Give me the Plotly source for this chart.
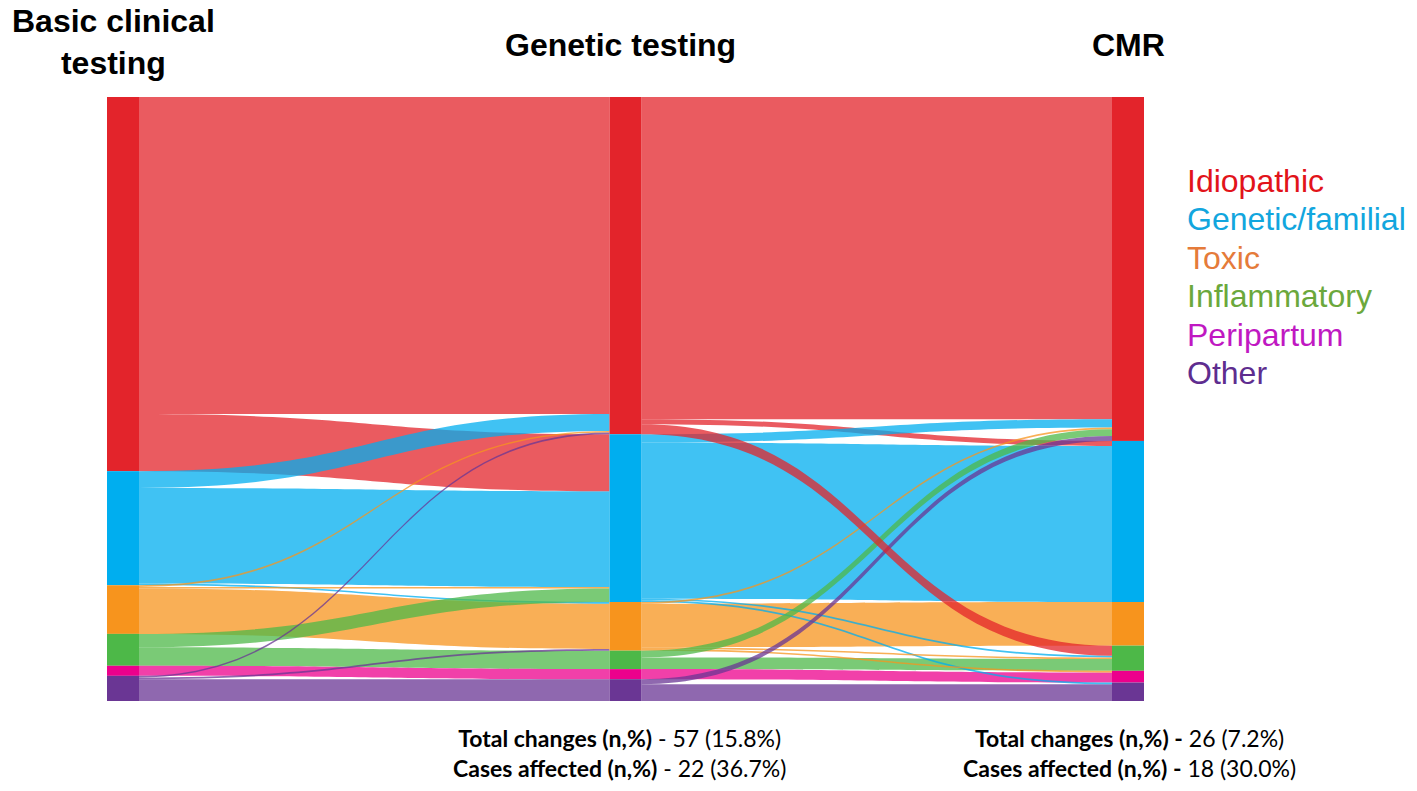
import plotly.graph_objects as go

# ---------------- data ----------------
categories = ["Idiopathic", "Genetic/familial", "Toxic", "Inflammatory", "Peripartum", "Other"]
stages = ["Basic clinical testing", "Genetic testing", "CMR"]

# Basic clinical testing -> Genetic testing (unchanged diagnoses first, changes after)
s1_from = ["Idiopathic", "Genetic/familial", "Toxic", "Inflammatory", "Peripartum", "Other",
           "Idiopathic", "Genetic/familial", "Genetic/familial",
           "Toxic", "Toxic", "Inflammatory", "Other", "Other"]
s1_to = ["Idiopathic", "Genetic/familial", "Toxic", "Inflammatory", "Peripartum", "Other",
         "Genetic/familial", "Idiopathic", "Toxic",
         "Idiopathic", "Genetic/familial", "Genetic/familial", "Idiopathic", "Toxic"]
s1_value = [189, 57, 27, 11, 6, 13,
            34, 10, 1,
            1, 1, 8, 1, 1]

# Genetic testing -> CMR (unchanged diagnoses first, changes after)
s2_from = ["Idiopathic", "Genetic/familial", "Toxic", "Inflammatory", "Peripartum", "Other",
           "Genetic/familial", "Genetic/familial", "Toxic", "Toxic",
           "Idiopathic", "Genetic/familial", "Toxic", "Inflammatory", "Other", "Idiopathic"]
s2_to = ["Idiopathic", "Genetic/familial", "Toxic", "Inflammatory", "Peripartum", "Other",
         "Inflammatory", "Other", "Inflammatory", "Peripartum",
         "Genetic/familial", "Idiopathic", "Idiopathic", "Idiopathic", "Idiopathic", "Inflammatory"]
s2_value = [192, 93, 26, 7, 6, 10,
            1, 1, 1, 1,
            3, 5, 1, 4, 3, 6]

summary_1 = ["Total changes (n,%)", " - 57 (15.8%)", "Cases affected (n,%)", " - 22 (36.7%)"]
summary_2 = ["Total changes (n,%) -", " 26 (7.2%)", "Cases affected (n,%) -", " 18 (30.0%)"]

# ---------------- styles ----------------
node_colors = ["#E3242B", "#00AEEF", "#F7941D", "#4DB848", "#EC008C", "#6A3694"]
link_rgb = [(227, 36, 43), (0, 174, 239), (247, 148, 29), (77, 184, 72), (236, 0, 140), (106, 54, 148)]
legend_colors = ["#E2131A", "#12A6DE", "#E57B3A", "#6BA83C", "#C018C2", "#5E2D8F"]

W, H = 1417, 791
top_px, bot_px = 97, 701
left_c, right_c = 122, 1129
col_x = [0.001, 0.5, 0.999]

ncat = len(categories)
idx = {c: i for i, c in enumerate(categories)}

sources, targets, values, lcolors = [], [], [], []
for st, (fr, to, va) in enumerate([(s1_from, s1_to, s1_value), (s2_from, s2_to, s2_value)]):
    for a, b, v in zip(fr, to, va):
        sources.append(st * ncat + idx[a])
        targets.append((st + 1) * ncat + idx[b])
        values.append(v)
        r, g, bb = link_rgb[idx[a]]
        lcolors.append(f"rgba({r},{g},{bb},0.75)")

# node values (max of in/out) -> stacked positions without padding
inn = [0] * (3 * ncat)
out = [0] * (3 * ncat)
for s, t, v in zip(sources, targets, values):
    out[s] += v
    inn[t] += v
nv = [max(a, b) for a, b in zip(inn, out)]

node_x, node_y, ncol, custom = [], [], [], []
for st in range(3):
    total = sum(nv[st * ncat:(st + 1) * ncat])
    cum = 0
    for c in range(ncat):
        v = nv[st * ncat + c]
        node_x.append(col_x[st])
        node_y.append((cum + v / 2) / total)
        cum += v
        ncol.append(node_colors[c])
        custom.append(f"{stages[st]}: {categories[c]}")

fig = go.Figure(go.Sankey(
    arrangement="fixed",
    domain=dict(x=[left_c / W, right_c / W], y=[1 - bot_px / H, 1 - top_px / H]),
    node=dict(
        pad=0,
        thickness=32,
        line=dict(width=0),
        color=ncol,
        x=node_x,
        y=node_y,
        label=[""] * len(ncol),
        customdata=custom,
        hovertemplate="%{customdata}<br>n = %{value}<extra></extra>",
    ),
    link=dict(
        source=sources,
        target=targets,
        value=values,
        color=lcolors,
        line=dict(width=0),
    ),
))

ann = []
title_font = dict(family="Liberation Sans Narrow, Arial Narrow, Liberation Sans, Arial", size=32, color="#000000")
ann.append(dict(text="<b>Basic clinical<br>testing</b>", x=113 / W, y=1 - 42 / H, xref="paper", yref="paper",
                xanchor="center", yanchor="middle", showarrow=False, font=title_font, align="center"))
ann.append(dict(text="<b>Genetic testing</b>", x=620 / W, y=1 - 45 / H, xref="paper", yref="paper",
                xanchor="center", yanchor="middle", showarrow=False, font=title_font))
ann.append(dict(text="<b>CMR</b>", x=1128 / W, y=1 - 45 / H, xref="paper", yref="paper",
                xanchor="center", yanchor="middle", showarrow=False, font=title_font))

leg_y = [181, 219, 258, 296, 335, 373]
for c, yy, col in zip(categories, leg_y, legend_colors):
    ann.append(dict(text=c, x=1185 / W, y=1 - yy / H, xref="paper", yref="paper",
                    xanchor="left", yanchor="middle", showarrow=False,
                    font=dict(family="Liberation Sans, Arial", size=32, color=col)))

sum_font = dict(family="Lato, Carlito, Calibri, sans-serif", size=23, color="#000000")
for txt, cx in [(summary_1, 619), (summary_2, 1129)]:
    t = f"<b>{txt[0]}</b>{txt[1]}<br><b>{txt[2]}</b>{txt[3]}"
    ann.append(dict(text=t, x=cx / W, y=1 - 753 / H, xref="paper", yref="paper",
                    xanchor="center", yanchor="middle", showarrow=False, font=sum_font, align="center"))

fig.update_layout(
    width=W, height=H,
    margin=dict(l=0, r=0, t=0, b=0),
    paper_bgcolor="white", plot_bgcolor="white",
    annotations=ann,
    showlegend=False,
)

fig.write_html("out.html",
               config={"displayModeBar": False},
               post_script="document.body.style.margin='0';document.body.style.overflow='hidden';")
